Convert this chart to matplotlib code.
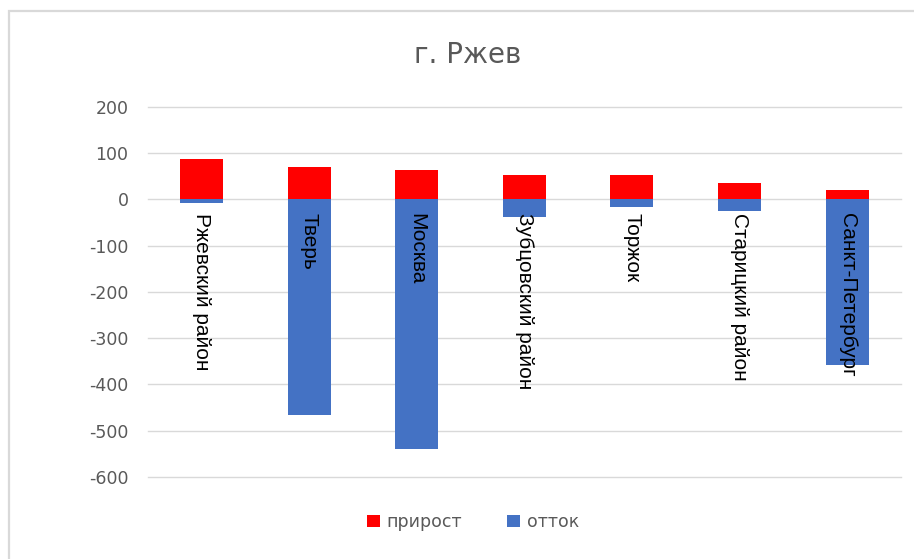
import matplotlib.pyplot as plt
from matplotlib.patches import Rectangle

places = ["Ржевский район", "Тверь", "Москва", "Зубцовский район",
          "Торжок", "Старицкий район", "Санкт-Петербург"]
growth = [88, 70, 64, 54, 52, 36, 20]          # прирост
outflow = [-7, -465, -540, -38, -17, -25, -357]  # отток
yticks = [200, 100, 0, -100, -200, -300, -400, -500, -600]

grey = "#595959"

fig = plt.figure(figsize=(9.14, 5.59), dpi=100)
ax = fig.add_axes([0.162, 0.1467, 0.8236, 0.6619])

x = range(len(places))
ax.bar(x, growth, width=0.4, color="#FF0000", label="прирост", zorder=3)
ax.bar(x, outflow, width=0.4, color="#4472C4", label="отток", zorder=3)

ax.set_xlim(-0.5, len(places) - 0.5)
ax.set_ylim(-600, 200)
ax.set_yticks(yticks)
ax.set_yticklabels([str(t) for t in yticks], fontsize=12.5, color=grey)
ax.set_xticks([])
ax.tick_params(axis="y", length=0, pad=14)
ax.grid(axis="y", color="#d9d9d9", lw=1, zorder=0)
for gl in ax.get_ygridlines():
    gl.set_clip_on(False)
for s in ax.spines.values():
    s.set_visible(False)

# category names written down from the zero line
for i, name in enumerate(places):
    ax.annotate(name, xy=(i, 0), xytext=(0, -10), textcoords="offset points",
                rotation=270, ha="center", va="top", fontsize=15,
                family="Liberation Sans", color="black", zorder=4)

fig.text(468 / 914, 1 - 55 / 559, "г. Ржев", fontsize=20, color=grey,
         ha="center", va="center")

fig.legend(loc="center", bbox_to_anchor=(473 / 914, 1 - 522 / 559), ncol=2,
           frameon=False, fontsize=12.5, labelcolor=grey, handlelength=0.75,
           handleheight=0.75, handletextpad=0.4, columnspacing=2.6)

# chart border
fig.patches.append(Rectangle((8.5 / 914, -0.1), 1.1, (1 - 11.5 / 559) + 0.1,
                             transform=fig.transFigure, fill=False,
                             edgecolor="#d9d9d9", lw=1.6))

fig.savefig("out.png", dpi=100)
